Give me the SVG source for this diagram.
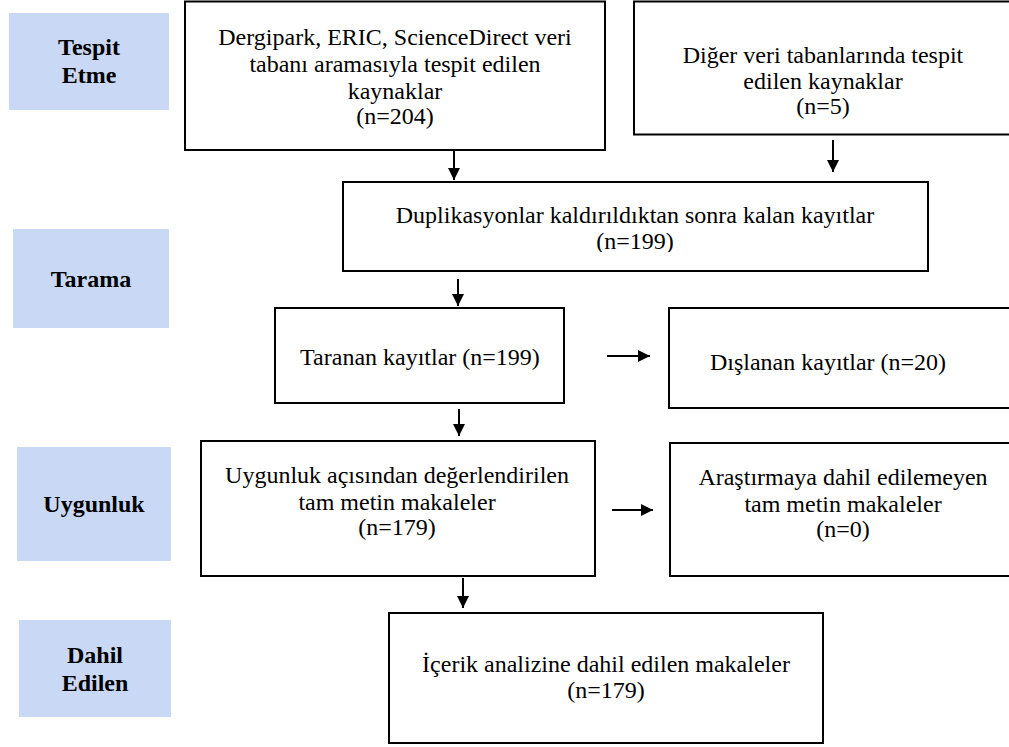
<svg xmlns="http://www.w3.org/2000/svg" width="1009" height="747" viewBox="0 0 1009 747">
<style>
.lbl{fill:#c9d9f5}
.lt{font-family:'Liberation Serif','Times New Roman',Times,'DejaVu Serif',serif;font-size:24px;font-weight:bold;fill:#000;text-anchor:middle}
.box{fill:#fff;stroke:#000;stroke-width:2}
.t{font-family:'Liberation Serif','Times New Roman',Times,'DejaVu Serif',serif;font-size:24px;fill:#000;text-anchor:middle}
.c{stroke:#000;stroke-width:2;fill:none}
</style>
<defs>
<marker id="ah" markerWidth="12" markerHeight="12" viewBox="0 0 12 12" refX="12" refY="6" orient="auto" markerUnits="userSpaceOnUse">
<path d="M0,0 L12,6 L0,12 Z" fill="#000"/>
</marker>
<clipPath id="clip3"><rect x="343" y="181" width="585" height="71"/></clipPath>
</defs>
<rect width="1009" height="747" fill="#fff"/>

<g id="stage-tespit">
<rect class="lbl" x="9" y="13" width="160" height="97"/>
<text class="lt" x="89" y="55" font-family="Liberation Serif, serif">Tespit</text>
<text class="lt" x="89" y="83" font-family="Liberation Serif, serif">Etme</text>
</g>
<g id="stage-tarama">
<rect class="lbl" x="13" y="229" width="156" height="99"/>
<text class="lt" x="91" y="287" font-family="Liberation Serif, serif">Tarama</text>
</g>
<g id="stage-uygunluk">
<rect class="lbl" x="17" y="447" width="154" height="114"/>
<text class="lt" x="94" y="512" font-family="Liberation Serif, serif">Uygunluk</text>
</g>
<g id="stage-dahil">
<rect class="lbl" x="19" y="620" width="152" height="97"/>
<text class="lt" x="95" y="663" font-family="Liberation Serif, serif">Dahil</text>
<text class="lt" x="95" y="691" font-family="Liberation Serif, serif">Edilen</text>
</g>

<g id="n-dergipark" font-family="Liberation Serif, serif">
<rect class="box" x="185" y="1.5" width="420" height="148.5"/>
<text class="t" x="395" y="45">Dergipark, ERIC, ScienceDirect veri</text>
<text class="t" x="395" y="72">tabanı aramasıyla tespit edilen</text>
<text class="t" x="395" y="99">kaynaklar</text>
<text class="t" x="395" y="124">(n=204)</text>
</g>
<g id="n-diger">
<rect class="box" x="634" y="1.5" width="385" height="133"/>
<text class="t" x="823" y="63">Diğer veri tabanlarında tespit</text>
<text class="t" x="823" y="89">edilen kaynaklar</text>
<text class="t" x="823" y="114">(n=5)</text>
</g>
<g id="n-duplikasyon">
<rect class="box" x="343" y="182" width="585" height="89"/>
<g clip-path="url(#clip3)">
<text class="t" x="635" y="223">Duplikasyonlar kaldırıldıktan sonra kalan kayıtlar</text>
<text class="t" x="635" y="249">(n=199)</text>
</g>
</g>
<g id="n-taranan">
<rect class="box" x="275" y="308" width="289" height="95"/>
<text class="t" x="420" y="365">Taranan kayıtlar (n=199)</text>
</g>
<g id="n-dislanan">
<rect class="box" x="669" y="308" width="350" height="100"/>
<text class="t" x="828" y="370">Dışlanan kayıtlar (n=20)</text>
</g>
<g id="n-uygunluk">
<rect class="box" x="201" y="441" width="394" height="135"/>
<text class="t" x="397" y="483">Uygunluk açısından değerlendirilen</text>
<text class="t" x="397" y="510">tam metin makaleler</text>
<text class="t" x="397" y="535">(n=179)</text>
</g>
<g id="n-arastirma">
<rect class="box" x="670" y="443" width="349" height="133"/>
<text class="t" x="843" y="485">Araştırmaya dahil edilemeyen</text>
<text class="t" x="843" y="512">tam metin makaleler</text>
<text class="t" x="843" y="537">(n=0)</text>
</g>
<g id="n-icerik">
<rect class="box" x="389" y="613" width="434" height="130"/>
<text class="t" x="606" y="672">İçerik analizine dahil edilen makaleler</text>
<text class="t" x="606" y="698">(n=179)</text>
</g>

<g id="connectors">
<line class="c" x1="454" y1="151" x2="454" y2="180" marker-end="url(#ah)"/>
<line class="c" x1="833" y1="140" x2="833" y2="172" marker-end="url(#ah)"/>
<line class="c" x1="458" y1="279" x2="458" y2="306" marker-end="url(#ah)"/>
<line class="c" x1="459" y1="409" x2="459" y2="436" marker-end="url(#ah)"/>
<line class="c" x1="607" y1="356" x2="650" y2="356" marker-end="url(#ah)"/>
<line class="c" x1="612" y1="510" x2="653" y2="510" marker-end="url(#ah)"/>
<line class="c" x1="463" y1="578" x2="463" y2="608" marker-end="url(#ah)"/>
</g>
</svg>
